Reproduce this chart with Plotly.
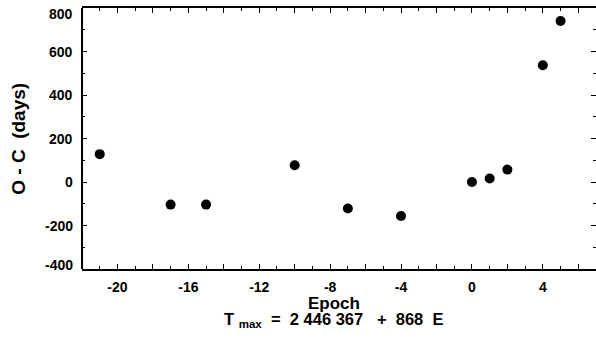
import plotly.graph_objects as go

# Data
epoch = [-21, -17, -15, -10, -7, -4, 0, 1, 2, 4, 5]
o_minus_c = [128, -104, -104, 77, -122, -156, 0, 16, 57, 537, 740]

x_major = [-22, -20, -18, -16, -14, -12, -10, -8, -6, -4, -2, 0, 2, 4, 6]
x_labels = ["", "-20", "", "-16", "", "-12", "", "-8", "", "-4", "", "0", "", "4", ""]
x_minor = [-21, -19, -17, -15, -13, -11, -9, -7, -5, -3, -1, 1, 3, 5, 7]

y_major = [-400, -200, 0, 200, 400, 600, 800]
y_labels = ["-400", "-200", "0", "200", "400", "600", "800"]
y_minor = [-300, -100, 100, 300, 500, 700]

FONT = "Liberation Sans"
BOLD = dict(family=FONT, color="black", weight="bold")

fig = go.Figure()
fig.add_trace(go.Scatter(
    x=epoch, y=o_minus_c, mode="markers",
    marker=dict(color="black", size=10, line=dict(width=0)),
    showlegend=False,
))

fig.update_layout(
    width=596, height=339,
    margin=dict(l=82, r=0, t=8, b=70, pad=0),
    paper_bgcolor="white", plot_bgcolor="white",
    font=dict(family=FONT, color="black", size=14, weight="bold"),
)

fig.update_xaxes(
    range=[-22, 7], showgrid=False, zeroline=False,
    showline=True, linecolor="black", linewidth=2, mirror="ticks",
    ticks="inside", ticklen=5, tickwidth=1, tickcolor="black",
    tickmode="array", tickvals=x_major, ticktext=x_labels,
    tickfont=dict(size=14, **BOLD), ticklabelstandoff=4,
    minor=dict(tickmode="array", tickvals=x_minor, ticks="inside",
               ticklen=3, tickwidth=1, tickcolor="black", showgrid=False),
)
fig.update_yaxes(
    range=[-400, 800], showgrid=False, zeroline=False,
    showline=False, mirror="ticks", showticklabels=False,
    ticks="inside", ticklen=5, tickwidth=1, tickcolor="black",
    tickmode="array", tickvals=y_major,
    minor=dict(tickmode="array", tickvals=y_minor, ticks="inside",
               ticklen=3, tickwidth=1, tickcolor="black", showgrid=False),
)

# left frame line (right edge of the frame falls outside the picture)
fig.add_shape(type="line", xref="paper", yref="paper", x0=0, x1=0, y0=0, y1=1,
              line=dict(color="black", width=2))

# y tick labels; the end labels are nudged inward as in the original
y_top, y_bottom = max(y_major), min(y_major)
for v, t in zip(y_major, y_labels):
    shift = -6 if v == y_top else (4 if v == y_bottom else 0)
    fig.add_annotation(
        text=t, xref="paper", yref="y", x=0, y=v, xanchor="right",
        yanchor="middle", xshift=-7, yshift=shift, showarrow=False,
        font=dict(size=14, **BOLD),
    )

fig.add_annotation(
    text="Epoch", xref="paper", yref="paper", x=0.49, y=0, yanchor="middle",
    yshift=-34, showarrow=False, font=dict(size=17, **BOLD),
)
fig.add_annotation(
    text="T <sub>max</sub>  =  2 446 367   +  868  E", xref="paper", yref="paper",
    x=0.49, y=0, yanchor="middle", yshift=-51, showarrow=False,
    font=dict(size=16.5, **BOLD),
)
fig.add_annotation(
    text="O - C  (days)", xref="paper", yref="paper", x=-0.124, y=0.5,
    xanchor="center", yanchor="middle", textangle=-90, showarrow=False,
    font=dict(size=19, **BOLD),
)

fig.write_html("out.html")
